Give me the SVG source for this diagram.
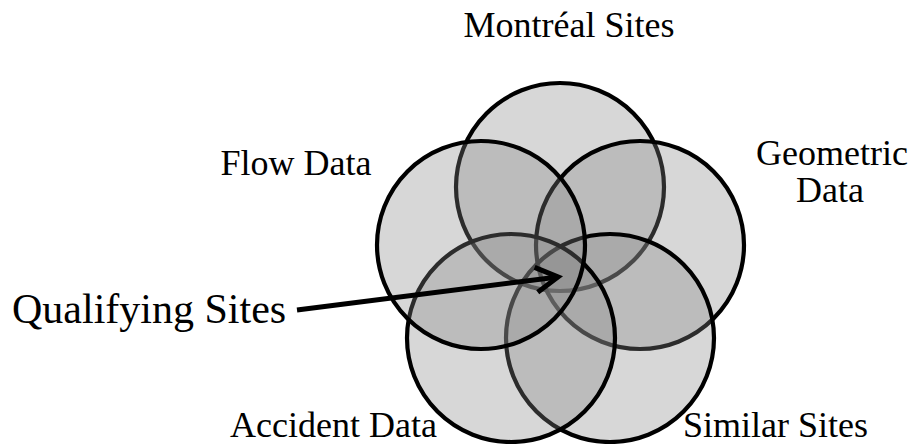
<svg xmlns="http://www.w3.org/2000/svg" width="914" height="444" viewBox="0 0 914 444">
  <style>
    .set { fill: #878787; fill-opacity: 0.33; stroke: #000; stroke-width: 4.2; }
    .lbl { font-family: "Liberation Serif", "Times New Roman", serif; font-size: 36px; fill: #000; }
    .big { font-size: 42px; }
    .conn { fill: none; stroke: #000; stroke-width: 5; }
  </style>
  <defs>
    <marker id="chev" markerUnits="userSpaceOnUse" viewBox="-30 -20 40 40" refX="0" refY="0" markerWidth="40" markerHeight="40" orient="auto">
      <path d="M-22,-12.5 L0,0 L-22,12.5" fill="none" stroke="#000" stroke-width="5"/>
    </marker>
  </defs>
  <rect width="914" height="444" fill="#fff"/>

  <!-- five overlapping sets, later ones drawn over earlier outlines -->
  <g id="montreal-sites">
    <circle class="set" cx="560" cy="187" r="104"/>
    <text class="lbl" x="569" y="37" text-anchor="middle">Montréal Sites</text>
  </g>
  <g id="geometric-data">
    <circle class="set" cx="640" cy="245" r="104"/>
    <text class="lbl" x="832" y="165" text-anchor="middle">Geometric</text>
    <text class="lbl" x="830" y="202" text-anchor="middle">Data</text>
  </g>
  <g id="similar-sites">
    <circle class="set" cx="610" cy="338" r="104"/>
    <text class="lbl" x="683" y="437">Similar Sites</text>
  </g>
  <g id="accident-data">
    <circle class="set" cx="511" cy="338" r="104"/>
    <text class="lbl" x="437" y="437" text-anchor="end">Accident Data</text>
  </g>
  <g id="flow-data">
    <circle class="set" cx="481" cy="245" r="104"/>
    <text class="lbl" x="296" y="175" text-anchor="middle">Flow Data</text>
  </g>

  <g id="qualifying-sites">
    <text class="lbl big" x="12" y="323">Qualifying Sites</text>
  </g>

  <g id="connectors">
    <path class="conn" d="M297,310 L558,277" marker-end="url(#chev)"/>
  </g>
</svg>
